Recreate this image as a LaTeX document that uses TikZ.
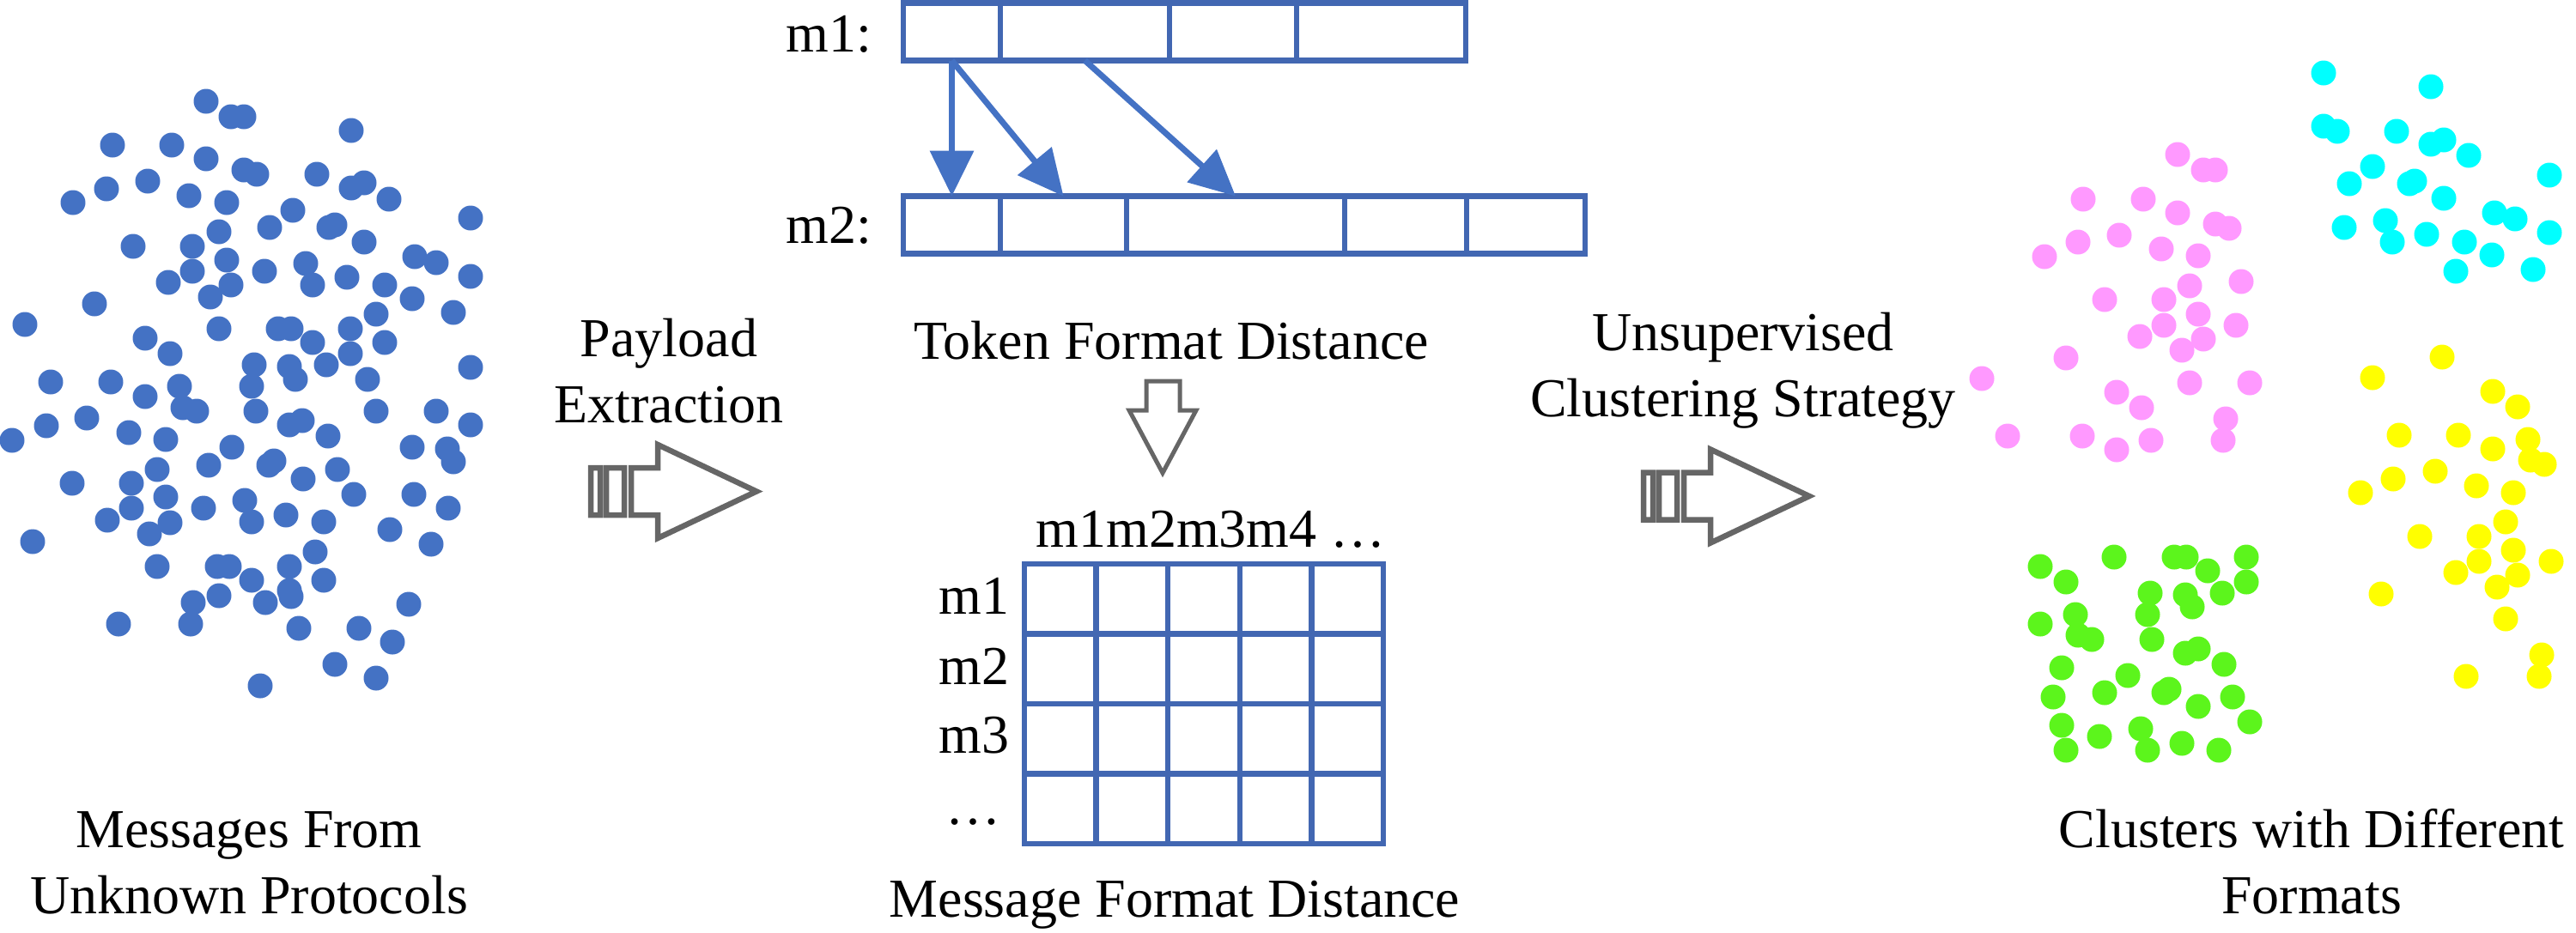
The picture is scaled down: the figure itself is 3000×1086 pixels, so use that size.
\documentclass[tikz,border=0pt]{standalone}
\usepackage{fontspec}
\setmainfont{Liberation Serif}
\usetikzlibrary{arrows.meta,positioning}
\definecolor{dotblue}{RGB}{68,114,196}
\definecolor{boxblue}{RGB}{66,103,178}
\definecolor{pinkdot}{RGB}{255,153,255}
\definecolor{cyandot}{RGB}{0,255,255}
\definecolor{yellowdot}{RGB}{255,255,0}
\definecolor{greendot}{RGB}{92,245,28}
\definecolor{arrgray}{RGB}{102,102,102}
\begin{document}
\begin{tikzpicture} [x=0.1mm, y=-0.1mm,
  lbl/.style={inner sep=0pt, align=center, anchor=base, font=\fontsize{18.2}{21.9}\selectfont},
  cell/.style={draw=boxblue, line width=0.65mm, inner sep=0pt, outer sep=0pt, minimum height=6.7mm, minimum width=#1},
  tok/.style={draw=dotblue, line width=0.7mm, -{Triangle[length=5.3mm,width=5mm]}},
  gridln/.style={draw=boxblue, line width=0.65mm},
  pics/fwdblock/.style={code={
    \draw[arrgray, line width=0.65mm] (3,-27.5) rectangle (14,27.5) (21,-27.5) rectangle (42,27.5)
      (50,-27.5) -- (81,-27.5) -- (81,-54.5) -- (196,0) -- (81,54.5) -- (81,27.5) -- (50,27.5) -- cycle;
  }}]
\useasboundingbox (0,0) rectangle (3000,1086);
\foreach \x/\y in {240/118, 269/136, 284/136, 409/152, 131/169, 200/169, 240/185, 284/198, 299/203, 369/203,
  124/220, 172/211, 409/219, 424/213, 453/232, 85/236, 220/228, 264/236, 341/245, 548/254, 314/265, 383/265,
  390/262, 255/270, 424/282, 155/287, 224/287, 483/299, 508/306, 264/303, 224/316, 308/316, 356/307, 364/332,
  404/323, 448/332, 548/322, 196/329, 269/332, 245/346, 480/348, 110/354, 438/366, 528/364, 29/378, 255/383,
  324/383, 339/383, 408/383, 169/394, 364/399, 448/399, 198/412, 408/412, 296/425, 337/427, 380/425, 548/428,
  344/442, 428/442, 59/445, 129/445, 209/450, 293/450, 169/462, 213/475, 229/479, 298/479, 438/479, 508/479,
  54/496, 101/487, 150/504, 193/512, 14/513, 337/495, 352/490, 382/508, 548/495, 270/521, 480/521, 521/523,
  528/538, 243/542, 313/542, 319/537, 393/547, 183/547, 84/563, 153/563, 353/558, 412/576, 482/576, 193/579,
  285/583, 237/592, 153/592, 522/592, 125/606, 333/600, 377/608, 293/608, 198/609, 174/622, 454/617, 38/631,
  502/634, 367/643, 183/660, 253/660, 267/660, 337/660, 293/676, 377/676, 337/688, 339/695, 225/702, 255/694,
  309/702, 476/704, 138/727, 222/727, 348/732, 418/732, 457/748, 390/774, 438/790, 303/799}
  \fill[dotblue] (\x,\y) circle[radius=1.45mm];
\foreach \x/\y in {2536/180, 2566/198, 2580/198, 2426/232, 2496/232, 2536/248, 2580/261, 2596/266, 2420/282,
  2468/274, 2381/299, 2517/290, 2560/298, 2610/328, 2550/333, 2451/349, 2520/349, 2560/366, 2520/379, 2604/379,
  2492/392, 2566/395, 2541/408, 2406/417, 2308/441, 2550/446, 2620/446, 2465/457, 2494/475, 2592/488, 2338/508,
  2425/508, 2465/524, 2505/513, 2589/513}
  \fill[pinkdot] (\x,\y) circle[radius=1.45mm];
\foreach \x/\y in {2706/85, 2831/101, 2706/147, 2722/153, 2791/153, 2831/168, 2846/163, 2875/181, 2763/194,
  2969/204, 2736/214, 2806/214, 2812/211, 2846/231, 2905/248, 2929/255, 2730/265, 2778/257, 2786/282, 2826/273,
  2870/282, 2969/271, 2902/297, 2860/316, 2950/314}
  \fill[cyandot] (\x,\y) circle[radius=1.45mm];
\foreach \x/\y in {2844/416, 2763/440, 2903/456, 2932/474, 2794/507, 2863/507, 2903/523, 2944/512, 2947/536,
  2963/541, 2787/558, 2836/549, 2749/574, 2884/566, 2927/574, 2918/608, 2818/625, 2887/625, 2927/641, 2971/654,
  2860/667, 2887/654, 2932/670, 2908/684, 2773/692, 2918/721, 2960/763, 2872/788, 2957/788}
  \fill[yellowdot] (\x,\y) circle[radius=1.45mm];
\foreach \x/\y in {2376/660, 2406/678, 2462/649, 2532/649, 2546/649, 2571/665, 2616/649, 2616/678, 2504/691,
  2545/693, 2553/707, 2588/691, 2376/727, 2417/716, 2420/740, 2436/745, 2501/716, 2506/745, 2545/761, 2560/756,
  2590/774, 2401/778, 2478/787, 2391/812, 2451/807, 2520/807, 2526/803, 2560/823, 2600/812, 2620/841, 2401/845,
  2445/858, 2493/849, 2406/874, 2501/874, 2541/866, 2584/874}
  \fill[greendot] (\x,\y) circle[radius=1.45mm];
\node[lbl, anchor=base west] (m1lbl) at (915,60) {m1:};
\node[lbl, anchor=base west] (m2lbl) at (915,283) {m2:};
\node[cell=11.3mm, anchor=north west] (a1) at (1052,3.5) {};
\node[cell=19.7mm, right=0pt of a1] (a2) {};
\node[cell=14.8mm, right=0pt of a2] (a3) {};
\node[cell=19.7mm, right=0pt of a3] (a4) {};
\node[cell=11.3mm, anchor=north west] (b1) at (1052,228.5) {};
\node[cell=14.7mm, right=0pt of b1] (b2) {};
\node[cell=25.4mm, right=0pt of b2] (b3) {};
\node[cell=14.2mm, right=0pt of b3] (b4) {};
\node[cell=13.8mm, right=0pt of b4] (b5) {};
\draw[tok] (a1.south) -- (b1.north);
\draw[tok] (a1.south) -- (b2.north);
\draw[tok] (a2.south) -- (b3.north);
\node[lbl] (tfd) at (1364,418) {Token Format Distance};
\draw[arrgray, line width=0.5mm] (1335,444) -- (1374,444) -- (1374,478) -- (1393,478) -- (1354,551)
  -- (1315,478) -- (1335,478) -- cycle;
\node[lbl, anchor=base west] (colhd) at (1206,637) {m1m2m3m4 …};
\node[gridln, draw, inner sep=0pt, outer sep=0pt, minimum width=41.8mm, minimum height=32.6mm,
  anchor=north west] (dmat) at (1193,657) {};
\foreach \k in {1,...,4}
  \draw[gridln] (1193+83.6*\k,657) -- (1193+83.6*\k,983);
\foreach \k in {1,2,3}
  \draw[gridln] (1193,657+81.5*\k) -- (1611,657+81.5*\k);
\foreach \t/\y in {m1/715, m2/797, m3/877}
  \node[lbl, anchor=base east] (r\t) at (1176,\y) {\t};
\node[lbl, anchor=base east] (rdots) at (1166,960) {…};
\node[lbl] (mfd) at (1368,1068) {Message Format Distance};
\node[lbl] (pay) at (779,492) {Payload\\Extraction};
\pic at (685,572.5) {fwdblock};
\node[lbl] (ucs) at (2030,485) {Unsupervised\\Clustering Strategy};
\pic at (1911,578) {fwdblock};
\node[lbl] (msgs) at (290,1064) {Messages From\\Unknown Protocols};
\node[lbl] (clus) at (2692,1064) {Clusters with Different\\Formats};
\end{tikzpicture}
\end{document}
